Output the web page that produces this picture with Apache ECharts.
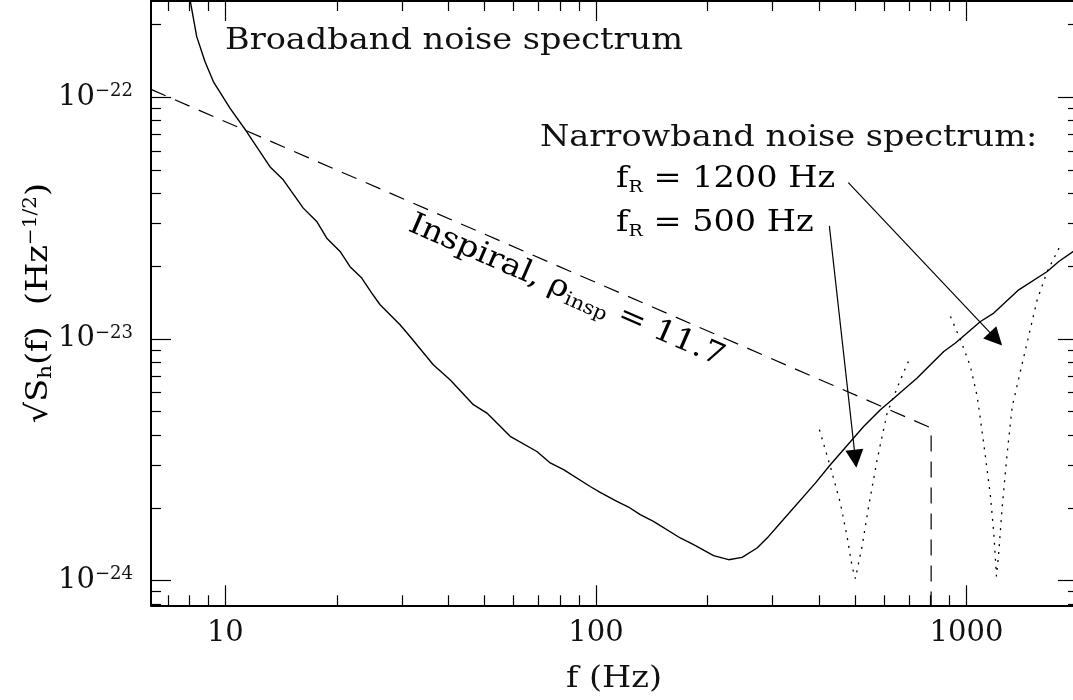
<!DOCTYPE html>
<html><head><meta charset="utf-8">
<script src="https://cdn.jsdelivr.net/npm/echarts@6/dist/echarts.min.js"></script>
<style>html,body{margin:0;padding:0;background:#fff}#c{width:1073px;height:700px}</style>
</head><body><div id="c"></div>
<script>
// ---------------- data ----------------
const broadbandFreq = [7.5, 8.03, 8.37, 8.81, 9.28, 10.29, 11.41, 13.19, 14.33, 16.23, 17.64, 18.78, 20.4, 21.7, 23.34, 24.84, 26.16, 29.61, 31.5, 36.4, 40.4, 46.7, 50.8, 58.7, 69.3, 75.3, 81.8, 96.5, 102.7, 113.9, 122.5, 131.7, 143.0, 168.9, 183.5, 207.8, 228.1, 248, 272.2, 292.5, 314.6, 391, 429.2, 527.9, 585.8, 630, 736, 868.5, 933.9, 1091, 1185, 1384, 1652, 1775, 2007];
const broadbandNoise = [4.5e-22, 2.53e-22, 1.78e-22, 1.404e-22, 1.16e-22, 9.01e-23, 7.21e-23, 5.16e-23, 4.55e-23, 3.475e-23, 3.06e-23, 2.61e-23, 2.30e-23, 1.99e-23, 1.784e-23, 1.547e-23, 1.384e-23, 1.144e-23, 1.023e-23, 7.81e-24, 6.78e-24, 5.34e-24, 4.93e-24, 3.95e-24, 3.42e-24, 3.065e-24, 2.875e-24, 2.45e-24, 2.317e-24, 2.125e-24, 2.015e-24, 1.873e-24, 1.757e-24, 1.50e-24, 1.407e-24, 1.268e-24, 1.22e-24, 1.247e-24, 1.364e-24, 1.523e-24, 1.73e-24, 2.53e-24, 3.015e-24, 4.34e-24, 5.09e-24, 5.60e-24, 6.89e-24, 8.87e-24, 9.61e-24, 1.18e-23, 1.279e-23, 1.596e-23, 1.90e-23, 2.09e-23, 2.38e-23];

const narrow500Freq = [401, 429, 456.7, 476.2, 491.2, 501.4, 522.8, 544.6, 574, 610.7, 663.6, 698.7];
const narrow500Noise = [4.21e-24, 2.967e-24, 2.094e-24, 1.523e-24, 1.145e-24, 1.018e-24, 1.385e-24, 2.027e-24, 3.16e-24, 4.93e-24, 6.78e-24, 8.12e-24];

const narrow1200Freq = [905.2, 963.5, 1025, 1069, 1091, 1125, 1161, 1185, 1205, 1222, 1249, 1288, 1329, 1443, 1552, 1652, 1786];
const narrow1200Noise = [1.238e-23, 9.91e-24, 7.69e-24, 5.78e-24, 4.63e-24, 3.264e-24, 2.229e-24, 1.573e-24, 1.041e-24, 1.30e-24, 2.027e-24, 3.37e-24, 5.25e-24, 9.02e-24, 1.451e-23, 1.90e-23, 2.41e-23];

const inspiralFreq = [6.3, 803, 803];
const inspiralAmp = [1.077e-22, 4.28e-24, 7.0e-25];

// arrows: [start, end] in (f, sqrt(Sh)) coordinates
const arrow1200 = [[480, 4.43e-23], [1201, 1.0e-23]];
const arrow500 = [[426.6, 2.935e-23], [501.4, 3.19e-24]];

const xRange = [6.3, 2000];
const yRange = [7.9e-25, 2.5e-22];
const xMajorTicks = [10, 100, 1000];
const xTickLabels = ['10', '100', '1000'];
const xMinorTicks = [7, 8, 9, 20, 30, 40, 50, 60, 70, 80, 90, 200, 300, 400, 500, 600, 700, 800, 900, 2000];
const yMajorTicks = [1e-24, 1e-23, 1e-22];
const yTickExponents = ['\u221224', '\u221223', '\u221222'];
const yMinorTicks = [8e-25, 9e-25, 2e-24, 3e-24, 4e-24, 5e-24, 6e-24, 7e-24, 8e-24, 9e-24, 2e-23, 3e-23, 4e-23, 5e-23, 6e-23, 7e-23, 8e-23, 9e-23, 2e-22];

// ---------------- chart ----------------
const FONT = '"DejaVu Serif", "Liberation Serif", serif';
const L = Math.log10;
const zip = (a, b) => a.map((v, i) => [v, b[i]]);

const ctx = document.createElement('canvas').getContext('2d');
ctx.font = '30px "DejaVu Serif"';
const SX = 458 / ctx.measureText('Broadband noise spectrum').width;

function decoAxis(dim, position, ticks, length, withLine, labels) {
  const range = dim === 'x' ? xRange : yRange;
  const ax = {
    type: 'value', position: position, min: L(range[0]), max: L(range[1]),
    silent: true,
    axisLine: {show: withLine, onZero: false, lineStyle: {color: '#000', width: 2}},
    axisTick: {show: true, inside: true, length: length, customValues: ticks.map(L), lineStyle: {color: '#000', width: 1.2}},
    splitLine: {show: false},
    axisLabel: {show: false}
  };
  if (labels) ax.axisLabel = labels;
  return ax;
}

const xLabel = {
  show: true, margin: 13, customValues: xMajorTicks.map(L),
  formatter: v => '{b|' + xTickLabels[xMajorTicks.findIndex(t => Math.abs(L(t) - v) < 1e-6)] + '}',
  rich: {b: {fontFamily: FONT, fontSize: 29, color: '#111', lineHeight: 30}}
};
const yLabel = {
  show: true, margin: 18, customValues: yMajorTicks.map(L),
  formatter: v => '{b|10}{s|' + yTickExponents[yMajorTicks.findIndex(t => Math.abs(L(t) - v) < 1e-6)] + '}',
  rich: {
    b: {fontFamily: FONT, fontSize: 29, color: '#111', lineHeight: 30},
    s: {fontFamily: FONT, fontSize: 18, color: '#111', lineHeight: 20, verticalAlign: 'top'}
  }
};

const grid = {left: 151, top: 1, right: -5, bottom: 94.7, outerBoundsMode: 'none', containLabel: false};

const xAxes = [
  {type: 'log', logBase: 10, min: xRange[0], max: xRange[1], show: false},
  decoAxis('x', 'bottom', xMajorTicks, 20, true, xLabel),
  decoAxis('x', 'bottom', xMinorTicks, 10, false),
  decoAxis('x', 'top', xMajorTicks, 20, true),
  decoAxis('x', 'top', xMinorTicks, 10, false)
];
const yAxes = [
  {type: 'log', logBase: 10, min: yRange[0], max: yRange[1], show: false},
  decoAxis('y', 'left', yMajorTicks, 20, true, yLabel),
  decoAxis('y', 'left', yMinorTicks, 10, false),
  decoAxis('y', 'right', yMajorTicks, 20, true),
  decoAxis('y', 'right', yMinorTicks, 10, false)
];

function txt(x, y, text, rich, opts) {
  return Object.assign({
    type: 'text', x: x, y: y, scaleX: SX, silent: true, z: 100,
    style: {text: text, rich: rich, fill: '#111', font: '30px ' + FONT, align: 'left', verticalAlign: 'middle'}
  }, opts || {});
}
const M = {fontFamily: FONT, fontSize: 30, color: '#111', lineHeight: 34};
const richSub = {m: M, sub: {fontFamily: FONT, fontSize: 17, color: '#111', lineHeight: 8, verticalAlign: 'bottom'}};
const richInsp = {m: M, sub: {fontFamily: FONT, fontSize: 19, color: '#111', lineHeight: 10, verticalAlign: 'bottom'}};
const richY = {m: M, sub: {fontFamily: FONT, fontSize: 19, color: '#111', lineHeight: 22, verticalAlign: 'bottom'},
  sup: {fontFamily: FONT, fontSize: 18, color: '#111', lineHeight: 22, verticalAlign: 'top'}};

const option = {
  animation: false,
  backgroundColor: '#fff',
  grid: grid,
  xAxis: xAxes,
  yAxis: yAxes,
  series: [
    {type: 'line', name: 'Broadband', data: zip(broadbandFreq, broadbandNoise), showSymbol: false, symbol: 'none', clip: true,
     lineStyle: {color: '#000', width: 1.4}},
    {type: 'line', name: 'Inspiral', data: zip(inspiralFreq, inspiralAmp), symbol: 'none', clip: true,
     lineStyle: {color: '#000', width: 1.2, type: [16, 10]}},
    {type: 'line', name: 'Narrowband 500', data: zip(narrow500Freq, narrow500Noise), symbol: 'none', clip: true,
     lineStyle: {color: '#000', width: 1.3, type: [2, 6]}},
    {type: 'line', name: 'Narrowband 1200', data: zip(narrow1200Freq, narrow1200Noise), symbol: 'none', clip: true,
     lineStyle: {color: '#000', width: 1.3, type: [2, 6]}},
    {type: 'lines', coordinateSystem: 'cartesian2d', symbol: ['none', 'triangle'], symbolSize: [12, 18],
     lineStyle: {color: '#000', width: 1.2, opacity: 1, curveness: 0},
     itemStyle: {color: '#000'},
     data: [{coords: arrow1200}, {coords: arrow500}]}
  ],
  graphic: [
    txt(225, 41, 'Broadband noise spectrum'),
    txt(540, 138, 'Narrowband noise spectrum:'),
    txt(616, 179, '', null, {style: {text: '{m|f}{sub|R}{m| = 1200 Hz}', rich: richSub, align: 'left', verticalAlign: 'middle'}}),
    txt(616, 223, '', null, {style: {text: '{m|f}{sub|R}{m| = 500 Hz}', rich: richSub, align: 'left', verticalAlign: 'middle'}}),
    txt(410, 223, '', null, {rotation: -Math.atan(338.7 / 779.3),
      style: {text: '{m|Inspiral, \u03c1}{sub|insp}{m| = 11.7}', rich: richInsp, align: 'left', verticalAlign: 'middle'}}),
    txt(614, 679, '', null, {style: {text: 'f (Hz)', font: '30px ' + FONT, fill: '#111', align: 'center', verticalAlign: 'middle'}}),
    txt(39, 303, '', null, {rotation: Math.PI / 2,
      style: {text: '{m|\u221aS}{sub|h}{m|(f)  (Hz}{sup|\u22121/2}{m|)}', rich: richY, align: 'center', verticalAlign: 'middle'}})
  ]
};

const chart = echarts.init(document.getElementById('c'), null, {renderer: 'canvas'});
chart.setOption(option);
</script>
</body></html>
